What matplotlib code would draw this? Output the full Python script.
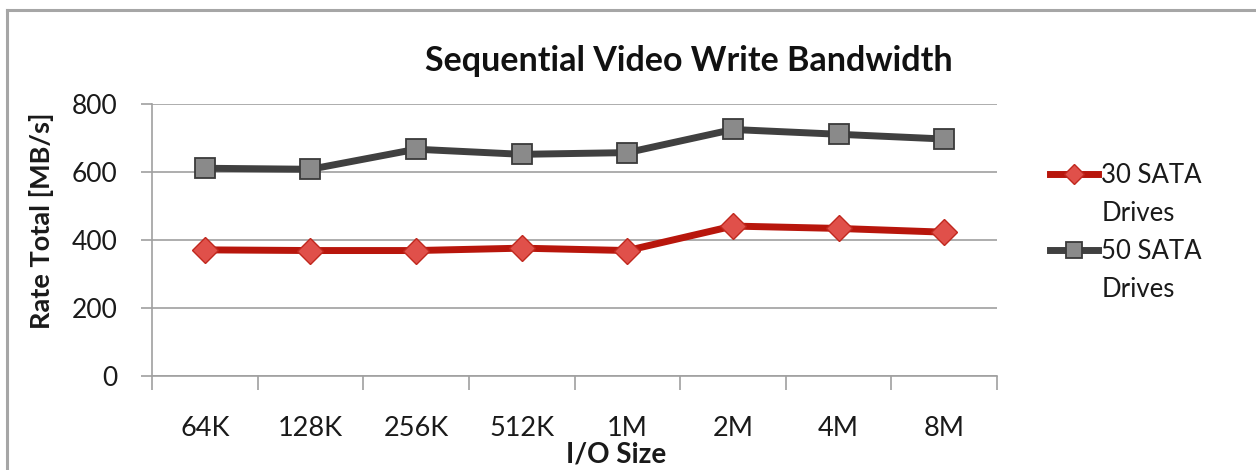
import matplotlib
matplotlib.use("Agg")
import matplotlib.pyplot as plt
from matplotlib.lines import Line2D

plt.rcParams['font.family'] = ['Lato', 'DejaVu Sans']

io_sizes = ["64K", "128K", "256K", "512K", "1M", "2M", "4M", "8M"]
drives_30 = [371, 369, 369, 376, 369, 441, 434, 423]
drives_50 = [611, 608, 667, 652, 657, 725, 711, 697]
series_names = ["30 SATA", "50 SATA"]
y_ticks = [0, 200, 400, 600, 800]

W, H = 1256, 470
fig = plt.figure(figsize=(W / 100, H / 100), dpi=100)

# outer chart-area frame (extends past the right and bottom edges)
frame_col = "#a6a6a6"
fig.add_artist(Line2D([7 / W, 7 / W], [0, 1 - 10 / H], color=frame_col, lw=2.2,
                      transform=fig.transFigure))
fig.add_artist(Line2D([7 / W, 1], [1 - 10 / H, 1 - 10 / H], color=frame_col, lw=2.2,
                      transform=fig.transFigure))

left, right = 152 / W, 997 / W
bottom, top = 1 - 376 / H, 1 - 104 / H
ax = fig.add_axes([left, bottom, right - left, top - bottom])

x = list(range(len(io_sizes)))
grid_col = "#a0a0a0"
text_col = "#1a1a1a"

l30, = ax.plot(x, drives_30, color="#b8160c", lw=5.0, marker="D", markersize=13,
               markerfacecolor="#e0504a", markeredgecolor="#c0281e",
               markeredgewidth=1.0, zorder=4, solid_joinstyle="round")
l50, = ax.plot(x, drives_50, color="#404040", lw=5.0, marker="s", markersize=14.5,
               markerfacecolor="#8a8a8a", markeredgecolor="#3a3a3a",
               markeredgewidth=1.3, zorder=4, solid_joinstyle="round")

ax.set_xlim(-0.5, len(io_sizes) - 0.5)
ax.set_ylim(0, 800)
ax.set_yticks(y_ticks)
ax.set_yticklabels([str(v) for v in y_ticks], fontsize=19, color=text_col)
ax.yaxis.grid(True, color=grid_col, lw=1.2)
ax.set_axisbelow(True)

ax.set_xticks(x)
ax.set_xticklabels(io_sizes, fontsize=19.5, color=text_col)
ax.tick_params(axis="x", length=0, pad=29)
ax.set_xticks([i - 0.5 for i in range(len(io_sizes) + 1)], minor=True)
ax.tick_params(axis="x", which="minor", length=10, color=grid_col, width=1.2)
ax.tick_params(axis="y", length=8, color=grid_col, width=1.2, pad=17)

for s in ("top", "right"):
    ax.spines[s].set_visible(False)
for s in ("left", "bottom"):
    ax.spines[s].set_color(grid_col)
    ax.spines[s].set_linewidth(1.2)

ax.set_ylabel("Rate Total [MB/s]", fontsize=19.5, fontweight="bold", color=text_col,
              va="center")
ax.yaxis.set_label_coords((42 - 152) / 845, (376 - 221) / 272)
ax.set_xlabel("I/O Size", fontsize=20, fontweight="bold", color=text_col,
              va="center")
ax.xaxis.set_label_coords((616 - 152) / 845, (376 - 454) / 272)

fig.text(689 / W, 1 - 61 / H, "Sequential Video Write Bandwidth", fontsize=24.5,
         fontweight="bold", ha="center", va="center", color="#111111")

# legend: each series name with its wrapped second line beneath it
blank = Line2D([], [], linestyle="none")
leg = ax.legend([l30, blank, l50, blank],
                [series_names[0], "Drives", series_names[1], "Drives"],
                loc="upper left", bbox_to_anchor=(1050 / W, 1 - 163 / H),
                bbox_transform=fig.transFigure, frameon=False, fontsize=18.5,
                handlelength=1.85, handletextpad=0.15, labelspacing=0.5,
                markerscale=0.78, borderaxespad=0, borderpad=0,
                labelcolor=text_col)

fig.savefig("out.png", dpi=100, facecolor="white")
